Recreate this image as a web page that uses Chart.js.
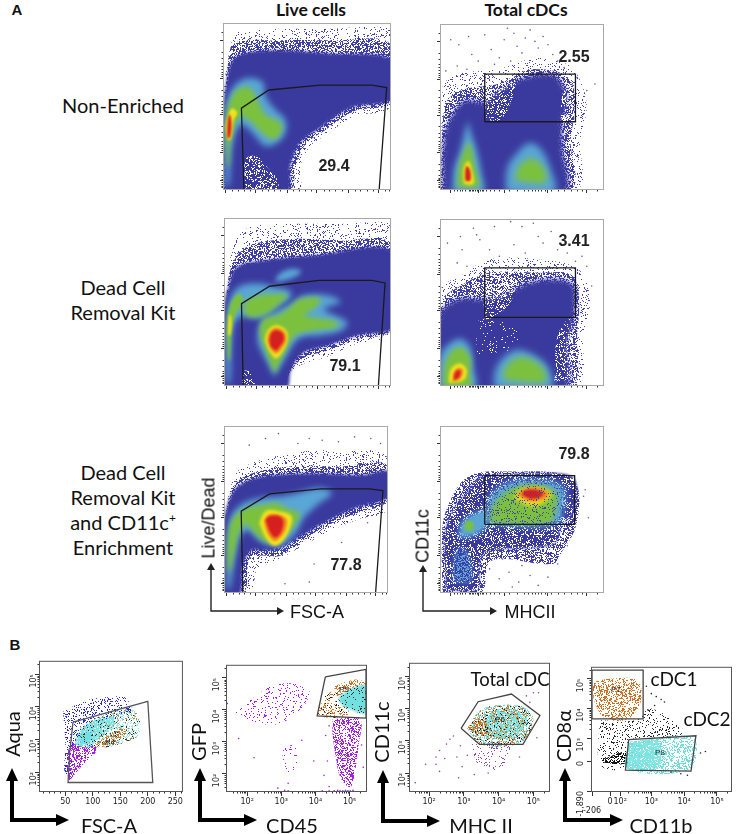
<!DOCTYPE html>
<html lang="en">
<head>
<meta charset="UTF-8">
<title>Flow cytometry panels</title>
<script src="https://cdn.jsdelivr.net/npm/chart.js"></script>
<style>
    html, body { margin: 0; padding: 0; background: #fff; overflow: hidden; }
    #page { position: relative; width: 736px; height: 834px; overflow: hidden; }
    #page canvas { position: absolute; }
    #arrows { position: absolute; left: 0; top: 0; }
    .t { position: absolute; transform: translate(-50%, -50%); white-space: nowrap; color: #111; text-align: center; }
    .rot { transform: translate(-50%, -50%) rotate(-90deg); }
    .cal { font-family: Lato, sans-serif; }
    .ari { font-family: "Liberation Sans", Arial, sans-serif; }
    .num { font-family: "Liberation Sans", Arial, sans-serif; font-weight: bold; font-size: 16px; color: #222; }
    .p { font-family: "Liberation Sans", Arial, sans-serif; font-size: 8px; color: #222; }
</style>
</head>
<body>
<div id="page">
<svg id="arrows" width="736" height="834">
    <g stroke="#222" stroke-width="1.4" fill="none">
        <path d="M211 566V611H279"/><path d="M423 568V611H492"/>
    </g>
    <g fill="#222">
        <path d="M211 563l-4 7h8z"/><path d="M284 611l-7-4v8z"/>
        <path d="M423 565l-4 7h8z"/><path d="M497 611l-7-4v8z"/>
    </g>
    <g stroke="#000" stroke-width="4" fill="none">
        <path d="M12 778V820H58"/><path d="M200 778V820H247"/>
        <path d="M383 778V821H429"/><path d="M565 778V820H613"/>
    </g>
    <g fill="#000">
        <path d="M12 768l-6 13h12z"/><path d="M69 820l-13-6v12z"/>
        <path d="M200 768l-6 13h12z"/><path d="M257 820l-13-6v12z"/>
        <path d="M383 770l-6 13h12z"/><path d="M440 821l-13-6v12z"/>
        <path d="M565 768l-6 13h12z"/><path d="M623 820l-13-6v12z"/>
    </g>
</svg>
</div>
<script>
// tick positions for the unlabelled top panels
const liveXMajor = [1, 19, 38, 56, 75, 93];
const liveXMinor = [4.7, 8.4, 12, 15.5, 22.7, 26.4, 30, 34, 41.7, 45, 49, 52.7, 60, 63.5, 67, 71, 78.7, 82, 86, 89.7, 96.7, 99.5];
const cdcXMajor = [6, 23, 39, 66, 90];
const cdcXMinor = [8, 10, 12, 13, 15, 17, 18, 19, 20, 21, 22, 24, 25, 26, 28, 30, 33, 36, 42, 47, 51, 54, 56, 58, 60, 62, 64, 68, 72, 76, 80, 84, 87, 96];
const topYMajor = [90, 67, 45, 22, 5];
const topYMinor = [95, 83.2, 79.3, 76.5, 74.3, 72.5, 71, 69.7, 68.5, 60.2, 56.3, 53.5, 51.3, 49.5, 48, 46.7, 38.2, 34.3, 31.5, 29.3, 27.5, 26, 24.7, 23.5, 15.2, 11.3, 8.5, 7, 6, 4, 3, 2, 1];

// bottom panel axes
const fscTicks = [50, 100, 150, 200, 250];
const fscMinor = [10, 20, 30, 40, 60, 70, 80, 90, 110, 120, 130, 140, 160, 170, 180, 190, 210, 220, 230, 240, 260];
const decadeTicks = [2, 3, 4, 5];
const decadeLabels = ['10²', '10³', '10⁴', '10⁵'];
const decadeMinor = [1.6, 1.7, 1.78, 1.85, 1.9, 1.95, 2.3, 2.48, 2.6, 2.7, 2.78, 2.85, 2.9, 2.95, 3.3, 3.48, 3.6, 3.7, 3.78, 3.85, 3.9, 3.95, 4.3, 4.48, 4.6, 4.7, 4.78, 4.85, 4.9, 4.95, 5.3];
const cd11bTicks = [1.19, 1.74, 2.05, 3, 4, 5];
const cd11bLabels = [['', '-206'], '0', '10²', '10³', '10⁴', '10⁵'];
const cd8Ticks = [1.22, 2.23, 3, 4, 5];
const cd8Labels = ['-1,890', '0', '10³', '10⁴', '10⁵'];

// A, row 1, live cells: density contours, x/y on 0-100 axes
const a1Wide = [[0,0],[45,0],[46,14],[52,26],[62,33],[78,44],[100,50],[100,97],[60,97],[30,97],[8,95],[3,80],[0,60]];
const a1Fringe = [[0,0],[40,0],[43,14],[49,27],[60,35],[78,47],[100,53],[100,88],[66,90],[30,90],[6,88],[2,70],[0,40]];
const a1Blue = [[0,-2],[38,-2],[40,14],[46,28],[58,37],[76,49],[102,55],[102,78],[66,82],[26,84],[7,80],[2,68],[-1,40]];
const a1Hole = [[13,-2],[13,18],[20,20],[27,12],[32,6],[32,-2]];
const a1Light = [[1,2],[3,2],[5,26],[10,39],[17,34],[25,26],[32,28],[37,34],[37,42],[31,48],[25,56],[23,65],[13,67],[5,61],[1,50],[0,34]];
const a1Green = [[2,14],[3,14],[4,30],[10,44],[17,40],[23,34],[30,30],[35,36],[33,41],[25,45],[21,52],[17,60],[12,62],[6,58],[2,48],[1,34]];
const a1Yellow = [[2,30],[4,30],[6,42],[8,46],[5,49],[3,46],[1,38]];
const a1Red = [[2,31],[3.5,31],[4.5,38],[4,44],[3,45],[2,38]];
const a1Gate = [[12,0],[10.5,49],[27,60],[58,63],[89,63],[98,61.5],[93.5,0]];

// A, row 1, total cDCs
const a2Wide = [[0,0],[84,0],[86,30],[90,50],[86,66],[78,76],[60,80],[35,73],[10,70],[1,62]];
const a2Blue = [[1,-2],[76,-2],[75,25],[75,42],[78,53],[73,67],[66,70],[52,68],[36,60],[27,53],[15,54],[8,47],[2,32]];
const a2Fringe = [[0,0],[80,0],[80,30],[83,50],[80,66],[70,72],[52,72],[35,64],[12,60],[2,50]];
const a2Hole = [[28,42],[28,68],[46,68],[42,50],[36,42]];
const a2Hole2 = [[74,40],[75,58],[80,62],[82,42]];
const a2Light = [[7,-2],[26,-2],[25,10],[22,24],[18,36],[17,41],[15,36],[12,24],[8,12]];
const a2Light2 = [[40,-2],[70,-2],[67,14],[62,24],[55,28],[48,23],[41,13]];
const a2Green = [[10,1],[23,1],[21,14],[19,24],[17,29],[15,25],[11,14]];
const a2Green2 = [[46,5],[64,4],[64,12],[58,18],[53,18],[47,12]];
const a2Yellow = [[14,3],[20,3],[19,12],[17,17],[14,13]];
const a2Red = [[15,5],[18,5],[18,11],[16,14],[15,11]];
const a2Gate = [[27,41],[83,41],[83,70],[27,70],[27,41]];
const a2Sparse = [[6,91],[11,88],[17,93],[19,82],[23,78],[27,94],[31,85],[36,80],[39,91],[41,98],[45,95],[47,87],[50,83],[52,92],[55,97],[58,90],[60,86],[63,93],[66,88],[69,82],[10,75],[16,73],[72,78],[76,74],[84,68],[90,60],[95,64],[3,72],[33,76],[43,78]];

// A, row 2, live cells
const a3Wide = [[0,0],[35,0],[38,5],[46,12],[62,17],[80,25],[100,30],[100,97],[70,97],[40,97],[15,95],[5,85],[2,55]];
const a3Fringe = [[0,0],[36,0],[39,7],[47,16],[63,21],[81,28],[100,33],[100,85],[70,87],[40,88],[15,84],[5,74],[1,55]];
const a3Blue = [[-1,-2],[37,-2],[40,9],[47,19],[63,24],[81,30],[102,35],[102,80],[53,78],[23,75],[7,71],[2,59],[-1,45]];
const a3Hole = [[10,-2],[11,8],[15,8],[18,-2]];
const a3Light = [[30,5],[37,17],[45,28],[59,30],[71,33],[74,38],[64,43],[60,46],[70,50],[62,54],[48,54],[40,49],[30,44],[22,38],[20,26],[25,15]];
const a3Light2 = [[1,1],[3,1],[4,25],[6,38],[10,41],[22,40],[32,47],[40,53],[39,57],[30,59],[22,61],[10,60],[4,54],[1,40],[0,20]];
const a3Light3 = [[30,62],[36,63],[44,66],[46,69],[40,70],[33,67]];
const a3Green = [[30,7],[24,22],[21,33],[24,40],[32,42],[38,46],[46,52],[58,52],[54,46],[48,42],[58,40],[68,38],[68,35],[55,33],[43,30],[37,21]];
const a3Green2 = [[11,45],[15,41],[25,43],[33,49],[38,54],[31,55],[21,54],[13,51]];
const a3Green3 = [[2,15],[3,15],[4,33],[6,41],[11,52],[8,55],[3,48],[1,35]];
const a3Yellow = [[24,27],[26,33],[31,36],[37,33],[38,27],[35,20],[31,16],[27,20]];
const a3Yellow2 = [[1.8,30],[3,30],[4,36],[3.5,42],[2.5,42]];
const a3Orange = [[25.5,27],[27,32],[31,34.5],[36,32],[37,27],[34,21.5],[31,19],[27.5,22]];
const a3Red = [[27,27],[28,31],[31,33],[35,31],[35.5,27],[33,23],[31,21],[28,23]];
const a3Gate = [[11,0],[10,49],[27,59.5],[57,63],[89,63],[97,61.5],[93,0]];

// A, row 2, total cDCs
const a4Wide = [[0,0],[84,0],[88,30],[92,52],[85,70],[60,76],[30,76],[12,66],[0,58]];
const a4Blue = [[-1,-2],[76,-2],[78,25],[82,41],[82,60],[72,64],[54,62],[40,55],[26,52],[10,52],[-1,42]];
const a4Fringe = [[0,0],[80,0],[84,30],[85,55],[80,67],[60,68],[30,68],[12,60],[0,50]];
const a4Hole = [[27,40],[27,68],[45,68],[43,50],[30,40]];
const a4Hole2 = [[22,18],[24,40],[42,38],[50,24],[36,20]];
const a4Hole3 = [[70,2],[72,30],[80,40],[80,5]];
const a4Light = [[-1,-2],[21,-2],[20,11],[18,23],[12,28],[5,25],[-1,17]];
const a4Light2 = [[33,-2],[68,-2],[66,11],[56,19],[46,21],[37,15],[33,7]];
const a4Green = [[1.5,-1],[18,-1],[18,7],[18,17],[12,23],[6,20],[2,11]];
const a4Green2 = [[39,3],[64,2],[63,10],[54,16],[46,16],[39,9]];
const a4Yellow = [[5,1],[14,3],[16,9],[12,13],[7,11],[5,6]];
const a4Orange = [[7,2],[12,4],[13.6,9],[11,10.5],[8,8]];
const a4Red = [[8,3],[11,4.5],[12,8],[10.5,9],[8.5,7]];
const a4Gate = [[27,41],[83,41],[83,71],[27,71],[27,41]];
const a4Sparse = [[4,86],[12,90],[13,82],[20,95],[22,91],[24,88],[33,96],[43,99],[50,96],[57,98],[45,85],[60,90],[63,86],[68,93],[72,82],[78,80],[84,88],[87,78],[83,75],[90,72],[93,60],[30,82],[36,78],[52,80],[10,74],[16,72]];

// A, row 3, live cells
const a5Wide = [[0,0],[16,0],[20,14],[32,19],[48,28],[65,37],[82,44],[100,50],[100,82],[70,86],[40,84],[10,75],[3,62],[0,40]];
const a5Fringe = [[0,0],[12,0],[15,20],[22,22],[34,22],[49,32],[65,41],[82,48],[100,55],[100,77],[70,76],[40,76],[12,70],[3,59],[0,40]];
const a5Blue = [[-1,-2],[9,-2],[11,15],[16,25],[23,25],[33,26],[49,35],[65,44],[81,51],[102,58],[102,73],[85,71],[53,72],[23,70],[9,65],[3,57],[-1,40]];
const a5Light = [[1,2],[3,2],[6,20],[10,35],[15,37],[20,32],[28,28],[36,29],[44,36],[48,44],[56,52],[66,60],[58,63],[45,60],[35,58],[22,57],[10,53],[3,44],[1,25]];
const a5Green = [[2,12],[3,12],[6,25],[9,37],[13,41],[18,36],[24,31],[31,30],[38,35],[44,42],[46,48],[40,50],[32,54],[24,53],[14,51],[7,47],[3,40],[1.5,28]];
const a5Yellow = [[21,42],[25,49],[33,49],[41,46],[40,38],[35,30],[30,28],[25,33]];
const a5Orange = [[24,43],[27,47],[33,47],[38,44],[37,37],[33,32],[30,31],[26,36]];
const a5Red = [[25,44],[28,46],[33,46],[36,43],[34.5,36],[31,33],[28,36]];
const a5Gate = [[11,0],[10,49],[27.5,59.5],[59,62.5],[89,62.5],[97.5,61.5],[93,0]];
const a5Sparse = [[15,89],[25,93],[33,96],[45,90],[52,93],[60,92],[70,91],[80,94],[90,93],[96,90],[37,5],[52,6],[55,17],[72,30],[88,42]];

// A, row 3, total cDCs
const a6Wide = [[1,0],[25,0],[31,19],[69,17],[75,25],[83,39],[85,61],[77,71],[45,73],[17,70],[3,49],[0.5,29]];
const a6Blue = [[3,1],[22,1],[24,19],[29,25],[69,29],[75,41],[82,49],[82,69],[61,72],[37,71],[23,69],[17,61],[7,49],[2,33],[3,17]];
const a6Light = [[29,41],[71,41],[76,53],[75,64],[59,68],[41,66],[30,57]];
const a6Light2 = [[11,33],[20,34],[28,40],[28,49],[19,47],[12,41]];
const a6Light3 = [[8,7],[18,7],[15,25],[10,25]];
const a6Green = [[31,42],[67,42],[71,51],[71,60],[59,65],[45,63],[35,56],[31,49]];
const a6Green2 = [[14,38],[19,37],[20,42],[16,43]];
const a6Yellow = [[45,57],[57,52],[67,57],[68,60],[61,63],[49,62]];
const a6Orange = [[47,59],[55,55],[65,57],[66,60.5],[60,63],[51,62.5]];
const a6Red = [[50,59],[56,56.5],[62,58],[63,60],[58,62],[52,61.5]];
const a6Gate = [[27,41],[82.5,41],[82.5,70.5],[27,70.5],[27,41]];
const a6Sparse = [[36,8],[42,12],[48,6],[55,10],[60,4],[66,9],[38,20],[50,16],[72,17],[78,28],[88,58],[91,45],[89,62],[30,14],[44,3]];

// B, FSC-A against Aqua (x in FSC units, y in log10)
const b1Gate = [[64,3.53],[200,4.17],[209,1.68],[55,1.68],[58,2.6],[64,3.53]];
const b1BlueDots = [[46,3.85],[88,4.2],[130,4.3],[157,4.3],[169,3.9],[112,3.35],[70,2.85],[61,1.95],[49,1.95],[50,2.85]];
const b1Purple = [[58,1.75],[80,2.2],[107,2.7],[85,2.95],[60,2.85],[53,2.05]];
const b1Mix = [[67,3.05],[106,2.75],[148,2.85],[184,3.15],[178,3.85],[136,3.85],[88,3.5],[67,3.25]];
const b1Cyan = [[67,2.85],[91,2.75],[109,3],[140,3.45],[137,3.7],[106,3.6],[76,3.25]];
const b1CyanCore = [[76,2.8],[100,3],[98,3.2],[85,3.2],[76,3.0]];
const b1Orange = [[103,2.8],[130,3.15],[154,3.35],[160,3.15],[124,2.8]];

// B, CD45 against GFP (both log10)
const b2Gate = [[4.29,5.03],[5.48,5.27],[5.48,3.74],[4.05,3.81],[4.29,5.03]];
const b2Column = [[4.5,3.71],[5.3,3.71],[5.26,2.87],[5.16,2.08],[5.02,1.58],[4.73,1.88],[4.59,2.57],[4.5,3.27]];
const b2ColumnCore = [[4.59,3.71],[5.21,3.71],[5.16,2.87],[4.92,2.28],[4.73,2.77],[4.59,3.27]];
const b2Cloud = [[1.59,3.96],[2.16,4.36],[2.83,4.8],[3.78,4.7],[3.69,4.16],[2.92,3.56],[2.07,3.66]];
const b2Cloud2 = [[3.02,2.82],[3.4,2.87],[3.45,2.18],[3.11,2.08]];
const b2Cyan = [[4.69,4.41],[5.11,4.7],[5.5,4.75],[5.5,3.91],[5.02,4.01],[4.73,4.21]];
const b2Orange = [[4.54,4.75],[5.21,4.95],[5.5,4.8],[5.11,4.7],[4.64,4.45]];
const b2Dark = [[4.3,4.5],[4.7,4.6],[4.95,3.85],[4.1,3.85]];
const b2Strip = [[4.55,1.47],[4.65,1.48],[4.72,1.47],[4.8,1.47],[4.88,1.48],[4.95,1.47],[5.02,1.47],[5.1,1.48],[3.1,1.48],[3.2,1.47],[4.2,1.47],[4.4,1.47]];
const b2Sparse = [[1.42,4.2],[1.75,3.1],[2.2,2.5],[2.9,1.55],[3.6,3.05],[3.95,2.4],[4.3,3.2],[4.35,2.4],[4.4,3.5],[4.25,1.95],[4.4,1.6],[5.35,2.9],[5.4,2.2],[3.2,1.7]];

// B, MHC II against CD11c (both log10)
const b3Gate = [[2.92,3.39],[3.41,4.22],[4.37,4.46],[5.19,3.79],[4.7,2.89],[3.45,2.89],[2.92,3.39]];
const b3Cyan = [[3.12,3.34],[3.5,2.89],[4.62,2.94],[5,3.64],[4.72,4.05],[3.87,4.1],[3.41,3.9]];
const b3CyanCore = [[3.59,3.19],[4.44,3.09],[4.81,3.79],[3.97,3.99],[3.64,3.69]];
const b3Orange = [[3.08,3.39],[3.69,3.19],[3.69,3.49],[3.4,3.7]];
const b3Purple = [[3.22,3],[3.41,2.29],[3.97,2.09],[4.34,2.69],[4.25,2.89]];
const b3Sparse = [[1.6,1.7],[1.9,2.27],[2.2,2.27],[2.3,2.05],[2.2,2.5],[2.3,2.7],[2.5,2.9],[2.6,3.05],[2.7,3.15],[2.45,2.45],[2.8,2.5],[2.9,2.85],[2.95,2.2],[3.1,2.55],[2.85,1.85],[3.3,1.95],[3.7,2.0],[4.6,2.5],[4.8,4.4],[5,4.5],[5.15,4.5],[4.9,4.2],[5.1,3.1]];

// B, CD11b against CD8a
const b4Gate7 = [[1.19,5.29],[2.75,5.29],[2.75,3.65],[1.19,3.65],[1.19,5.29]];
const b4Gate8 = [[2.31,2.95],[4.36,3.08],[4.21,1.89],[2.21,1.92],[2.31,2.95]];
const b4Orange = [[1.22,4.89],[1.72,5],[2.56,4.95],[2.7,4.32],[2.31,3.66],[1.6,3.66],[1.26,4.26]];
const b4OrangeCore = [[1.51,4.74],[2.11,4.74],[2.21,4.1],[1.71,4]];
const b4Cyan = [[2.36,2.89],[4.27,3.02],[4.16,1.95],[2.26,1.97]];
const b4CyanCore = [[2.3,2.85],[3.2,2.9],[3.2,2],[2.25,2]];
const b4Black = [[1.42,3.6],[2.5,3.6],[3,4],[4,3.2],[3,3],[2.3,2.9],[2.25,2],[1.45,2.1]];
const b4BlackCore = [[1.47,2.26],[2.21,2.53],[2.26,2.16],[1.61,2.16]];
const b4Sparse = [[3,4.5],[3.15,4.4],[3.3,4.3],[3.4,4.22],[2.85,4.75],[3.1,4.1],[2.9,3.95],[4.5,2.5],[4.65,2.55],[3.6,1.85],[3.9,1.8],[4.1,1.75]];

const BLUE = '#3a3a9e', LIGHT = '#5aa6d6', GREEN = '#7cc13e', YELLOW = '#f2e21e', ORANGE = '#f0841e', RED = '#d61f1f';

// grainy fill textures for areas that are too thin to be solid
let grainSeed = 1;
function speck(color, share) {
    const tile = document.createElement('canvas');
    tile.width = tile.height = 256;
    const c = tile.getContext('2d');
    c.fillStyle = color;
    grainSeed += 1;
    for (let y = 0; y < 256; y++) {
        for (let x = 0; x < 256; x++) {
            let h = Math.imul(x + grainSeed * 311, 374761393) + Math.imul(y + grainSeed * 173, 668265263);
            h = Math.imul(h ^ (h >>> 13), 1274126177);
            if (((h ^ (h >>> 16)) >>> 0) / 4294967296 < share) c.fillRect(x, y, 1, 1);
        }
    }
    return c.createPattern(tile, 'repeat');
}
const dots = {
    thin: speck('#4444ac', 0.12), mid: speck('#3e3ea6', 0.5), white: speck('#ffffff', 0.25),
    whiteThin: speck('#ffffff', 0.06), violet: speck('#a21ee0', 0.1), violetMid: speck('#a21ee0', 0.42),
    plum: speck('#8e4aa8', 0.12), cyan: speck('#6fdcdc', 0.4), cyanMid: speck('#7fe6e6', 0.75),
    orange: speck('#d2782a', 0.2), orangeMid: speck('#cf6f22', 0.36), dark: speck('#222222', 0.07),
    darkMid: speck('#111111', 0.5), grey: speck('#333333', 0.06), blueDot: speck('#2a2ad0', 0.2),
    tan: speck('#b58a4a', 0.15), cyanThin: speck('#8fe8e8', 0.25)
};

function pts(a) { return a.map(p => ({ x: p[0], y: p[1] })); }
function area(a, color, blur) {
    return { type: 'scatter', data: pts(a.concat([a[0]])), showLine: true, tension: 0.35, fill: 'shape', backgroundColor: color,
        borderWidth: 0, pointRadius: 0, blur: blur || 0.35 };
}
function gate(a, color) {
    return { type: 'scatter', data: pts(a), showLine: true, tension: 0, fill: false, borderColor: color, borderWidth: 1.3, pointRadius: 0 };
}
function sparse(a, color) {
    return { type: 'scatter', data: pts(a), showLine: false, backgroundColor: color, borderWidth: 0, pointRadius: 0.8 };
}

// ctx.filter is set between datasets so the filler picks it up for the next one
const softEdges = {
    id: 'softEdges',
    beforeDatasetsDraw(chart) {
        const ds = chart.data.datasets;
        chart.ctx.filter = ds[ds.length - 1].blur ? 'blur(' + ds[ds.length - 1].blur + 'px)' : 'none';
    },
    afterDatasetDraw(chart, args) {
        const next = chart.data.datasets[args.index - 1];
        chart.ctx.filter = next && next.blur ? 'blur(' + next.blur + 'px)' : 'none';
    },
    afterDatasetsDraw(chart) { chart.ctx.filter = 'none'; }
};
const frame = {
    id: 'frame',
    afterDraw(chart, args, o) {
        const ctx = chart.ctx, a = chart.chartArea;
        ctx.save();
        ctx.strokeStyle = '#333';
        ctx.lineWidth = 1;
        (o.xMinor || []).forEach(v => {
            const x = Math.round(chart.scales.x.getPixelForValue(v)) + 0.5;
            ctx.beginPath(); ctx.moveTo(x, a.bottom); ctx.lineTo(x, a.bottom + 2.5); ctx.stroke();
        });
        (o.yMinor || []).forEach(v => {
            const y = Math.round(chart.scales.y.getPixelForValue(v)) + 0.5;
            ctx.beginPath(); ctx.moveTo(a.left, y); ctx.lineTo(a.left - 2.5, y); ctx.stroke();
        });
        ctx.strokeStyle = o.color;
        ctx.strokeRect(a.left - 0.5, a.top - 0.5, a.right - a.left + 1, a.bottom - a.top + 1);
        ctx.restore();
    }
};

const page = document.getElementById('page');
const marginL = 34, marginB = 34, marginT = 3, marginR = 1;

function panel(p) {
    const canvas = document.createElement('canvas');
    const w = p.box[2] - p.box[0], h = p.box[3] - p.box[1];
    canvas.width = w + marginL + marginR;
    canvas.height = h + marginT + marginB;
    canvas.style.left = (p.box[0] - marginL) + 'px';
    canvas.style.top = (p.box[1] - marginT) + 'px';
    page.appendChild(canvas);
    const ticksFrom = (values, labels, size, pad) => ({
        afterBuildTicks: s => { s.ticks = values.map(v => ({ value: v })); },
        ticks: { autoSkip: false, padding: pad, color: '#222', font: { size: 8, family: '"DejaVu Sans"' },
            display: !!labels, callback: (v, i) => labels ? labels[i] : '' },
        grid: { drawOnChartArea: false, tickLength: size, tickColor: '#333', tickWidth: 1 },
        border: { display: false }
    });
    const x = ticksFrom(p.xTicks, p.xLabels, p.tick, 1);
    const y = ticksFrom(p.yTicks, p.yLabels, p.tick, p.yPad || 1);
    y.ticks.minRotation = y.ticks.maxRotation = 90;
    new Chart(canvas, {
        type: 'scatter',
        // the library paints the first dataset last
        data: { datasets: p.layers.slice().reverse() },
        options: {
            responsive: false, animation: false, events: [],
            layout: { padding: { top: marginT, right: marginR } },
            plugins: { legend: { display: false }, tooltip: { enabled: false },
                frame: { xMinor: p.xMinor, yMinor: p.yMinor, color: p.frame } },
            scales: {
                x: Object.assign(x, { type: 'linear', min: p.xRange[0], max: p.xRange[1], afterFit: s => { s.height = marginB; } }),
                y: Object.assign(y, { type: 'linear', min: p.yRange[0], max: p.yRange[1], afterFit: s => { s.width = marginL; } })
            }
        },
        plugins: [softEdges, frame]
    });
}

const topBase = { xRange: [0, 100], yRange: [0, 100], tick: 4, frame: '#a8a8a8', yTicks: topYMajor, yMinor: topYMinor };
const liveAxes = Object.assign({ xTicks: liveXMajor, xMinor: liveXMinor }, topBase);
const cdcAxes = Object.assign({ xTicks: cdcXMajor, xMinor: cdcXMinor }, topBase);

panel(Object.assign({ box: [224, 24, 390, 189], layers: [
    area(a1Wide, dots.thin), area(a1Fringe, dots.mid), area(a1Blue, BLUE, 1.5), area(a1Hole, dots.white),
    area(a1Light, LIGHT, 3), area(a1Green, GREEN, 2.5), area(a1Yellow, YELLOW, 1.2), area(a1Red, RED, 1),
    gate(a1Gate, '#1a1a1a')] }, liveAxes));
panel(Object.assign({ box: [441, 24, 606, 189], layers: [
    area(a2Wide, dots.thin), area(a2Fringe, dots.mid), area(a2Blue, BLUE, 2.5), area(a2Hole, dots.white), area(a2Hole2, dots.white),
    area(a2Light, LIGHT, 3), area(a2Light2, LIGHT, 3.5), area(a2Green, GREEN, 2.5), area(a2Green2, GREEN, 3),
    area(a2Yellow, YELLOW, 1.5), area(a2Red, RED, 1), sparse(a2Sparse, '#5a5ab8'), gate(a2Gate, '#1a1a1a')] }, cdcAxes));
panel(Object.assign({ box: [225, 219, 390, 385], layers: [
    area(a3Wide, dots.thin), area(a3Fringe, dots.mid), area(a3Blue, BLUE, 1.5), area(a3Hole, dots.white),
    area(a3Light, LIGHT, 3), area(a3Light2, LIGHT, 3), area(a3Light3, LIGHT, 2.5), area(a3Green, GREEN, 2.5), area(a3Green2, GREEN, 2.5), area(a3Green3, GREEN, 1.5),
    area(a3Yellow, YELLOW, 1.5), area(a3Yellow2, YELLOW, 1), area(a3Orange, ORANGE, 1), area(a3Red, RED, 1), gate(a3Gate, '#1a1a1a')] }, liveAxes));
panel(Object.assign({ box: [441, 219, 606, 385], layers: [
    area(a4Wide, dots.thin), area(a4Fringe, dots.mid), area(a4Blue, BLUE, 2.5), area(a4Hole, dots.white), area(a4Hole2, dots.whiteThin), area(a4Hole3, dots.white),
    area(a4Light, LIGHT, 3), area(a4Light2, LIGHT, 3.5), area(a4Green, GREEN, 2.5), area(a4Green2, GREEN, 3),
    area(a4Yellow, YELLOW, 1.5), area(a4Orange, ORANGE, 1), area(a4Red, RED, 1), sparse(a4Sparse, '#5a5ab8'), gate(a4Gate, '#1a1a1a')] }, cdcAxes));
panel(Object.assign({ box: [225, 426, 390, 592], layers: [
    area(a5Wide, dots.thin), area(a5Fringe, dots.mid), area(a5Blue, BLUE, 1.5),
    area(a5Light, LIGHT, 3), area(a5Green, GREEN, 2.5), area(a5Yellow, YELLOW, 1.5), area(a5Orange, ORANGE, 1), area(a5Red, RED, 1),
    sparse(a5Sparse, '#5a5ab8'), gate(a5Gate, '#1a1a1a')] }, liveAxes));
panel(Object.assign({ box: [441, 426, 606, 592], layers: [
    area(a6Wide, dots.mid), area(a6Blue, BLUE, 1), area(a6Blue, dots.white), area(a6Light, LIGHT, 3), area(a6Light2, LIGHT, 2.5), area(a6Light3, LIGHT, 2.5),
    area(a6Light3, dots.mid), area(a6Green, GREEN, 2.5), area(a6Green2, GREEN, 1.5), area(a6Yellow, YELLOW, 2), area(a6Orange, ORANGE, 1.5), area(a6Red, RED, 1),
    area(a6Light, dots.thin), sparse(a6Sparse, '#5a5ab8'), gate(a6Gate, '#1a1a1a')] }, cdcAxes));

const decadeAxis = { tick: 5, frame: '#555', xMinor: decadeMinor, yMinor: decadeMinor, xTicks: decadeTicks, xLabels: decadeLabels, yTicks: decadeTicks, yLabels: decadeLabels };
panel(Object.assign({}, decadeAxis, { box: [40, 659, 183, 791], xRange: [4, 262], yRange: [1.42, 5.38], yPad: 1,
    xTicks: fscTicks, xLabels: fscTicks.map(String), xMinor: fscMinor, layers: [
    area(b1BlueDots, dots.blueDot), area(b1Mix, dots.tan), area(b1Mix, dots.cyanThin), area(b1Purple, dots.violetMid), area(b1Purple, dots.violetMid), area(b1Purple, dots.violetMid),
    area(b1Cyan, dots.cyanMid), area(b1CyanCore, '#73e0e0', 1), area(b1Orange, dots.orangeMid), area(b1Mix, dots.grey), gate(b1Gate, '#555')] }));
panel(Object.assign({}, decadeAxis, { box: [227, 659, 369, 791], xRange: [1.41, 5.48], yRange: [1.46, 5.38], yPad: 5, layers: [
    area(b2Cloud, dots.violet), area(b2Cloud2, dots.violet), area(b2Column, dots.violetMid), area(b2ColumnCore, dots.violetMid),
    area(b2Dark, dots.orange), area(b2Dark, dots.dark), area(b2Orange, dots.orangeMid), area(b2Cyan, '#73e0e0', 1), area(b2Cyan, dots.dark),
    sparse(b2Strip, '#a21ee0'), sparse(b2Sparse, '#a21ee0'), gate(b2Gate, '#444')] }));
panel(Object.assign({}, decadeAxis, { box: [410, 660, 552, 791], xRange: [1.45, 5.45], yRange: [1.44, 5.4], yPad: 2, layers: [
    area(b3Purple, dots.plum), area(b3Purple, dots.plum), area(b3Cyan, dots.cyan), area(b3CyanCore, dots.cyanMid), area(b3Orange, dots.orangeMid),
    area(b3Cyan, dots.orange), area(b3Cyan, dots.dark), sparse(b3Sparse, '#8e4aa8'), gate(b3Gate, '#444')] }));
panel({ box: [592, 660, 734, 791], xRange: [1.19, 5.43], yRange: [1.22, 5.37], tick: 5, frame: '#555', yPad: 6,
    xTicks: cd11bTicks, xLabels: cd11bLabels, xMinor: decadeMinor.filter(v => v > 2.1),
    yTicks: cd8Ticks, yLabels: cd8Labels, yMinor: decadeMinor.filter(v => v > 3), layers: [
    area(b4Black, dots.grey), area(b4Black, dots.dark), area(b4BlackCore, dots.darkMid), area(b4Orange, dots.orangeMid), area(b4OrangeCore, dots.orangeMid),
    area(b4Cyan, dots.cyan), area(b4CyanCore, dots.cyanMid), sparse(b4Sparse, '#222'), gate(b4Gate7, '#444'), gate(b4Gate8, '#444')] });

// text over the canvases: [text, x, y, class, size, weight]
const texts = [
    ['A', 17, 9, 'ari', 15, 'bold'], ['B', 15, 644, 'ari', 15, 'bold'],
    ['Live cells', 311, 9, 'cal', 17.5, 'bold'], ['Total cDCs', 526, 9, 'cal', 17.5, 'bold'],
    ['Non-Enriched', 123, 105, 'cal', 20], ['Dead Cell', 123, 287, 'cal', 20], ['Removal Kit', 123, 312, 'cal', 20],
    ['Dead Cell', 123, 472, 'cal', 20], ['Removal Kit', 123, 497, 'cal', 20], ['and CD11c<sup style="font-size:12px;line-height:0">+</sup>', 123, 522, 'cal', 20], ['Enrichment', 123, 547, 'cal', 20],
    ['FSC-A', 317, 612, 'ari', 18], ['MHCII', 530, 612, 'ari', 18], ['Live/Dead', 209, 518, 'ari rot', 18], ['CD11c', 423, 536, 'ari rot', 18],
    ['29.4', 334, 166, 'num'], ['2.55', 574, 57, 'num'], ['79.1', 345, 366, 'num'], ['3.41', 574, 241, 'num'], ['77.8', 346, 565, 'num'], ['79.8', 574, 454, 'num'],
    ['P4', 110, 742, 'p'], ['P5', 344, 689, 'p'], ['P6', 500, 719, 'p'], ['P7', 616, 689, 'p'], ['P8', 660, 752, 'p'],
    ['Aqua', 12, 734, 'cal rot', 20], ['GFP', 198, 742, 'cal rot', 20], ['CD11c', 381, 732, 'cal rot', 20], ['CD8α', 563, 736, 'cal rot', 20],
    ['FSC-A', 109, 825, 'cal', 20], ['CD45', 292, 825, 'cal', 20], ['MHC II', 481, 825, 'cal', 20], ['CD11b', 661, 825, 'cal', 20],
    ['Total cDC', 510, 679, 'cal', 18.5], ['cDC1', 674, 678, 'cal', 19], ['cDC2', 707, 718, 'cal', 19]
];
texts.forEach(t => {
    const d = document.createElement('div');
    d.className = 't ' + t[3];
    d.innerHTML = t[0];
    d.style.left = t[1] + 'px';
    d.style.top = t[2] + 'px';
    if (t[4]) d.style.fontSize = t[4] + 'px';
    if (t[5]) d.style.fontWeight = t[5];
    page.appendChild(d);
});
</script>
</body>
</html>
